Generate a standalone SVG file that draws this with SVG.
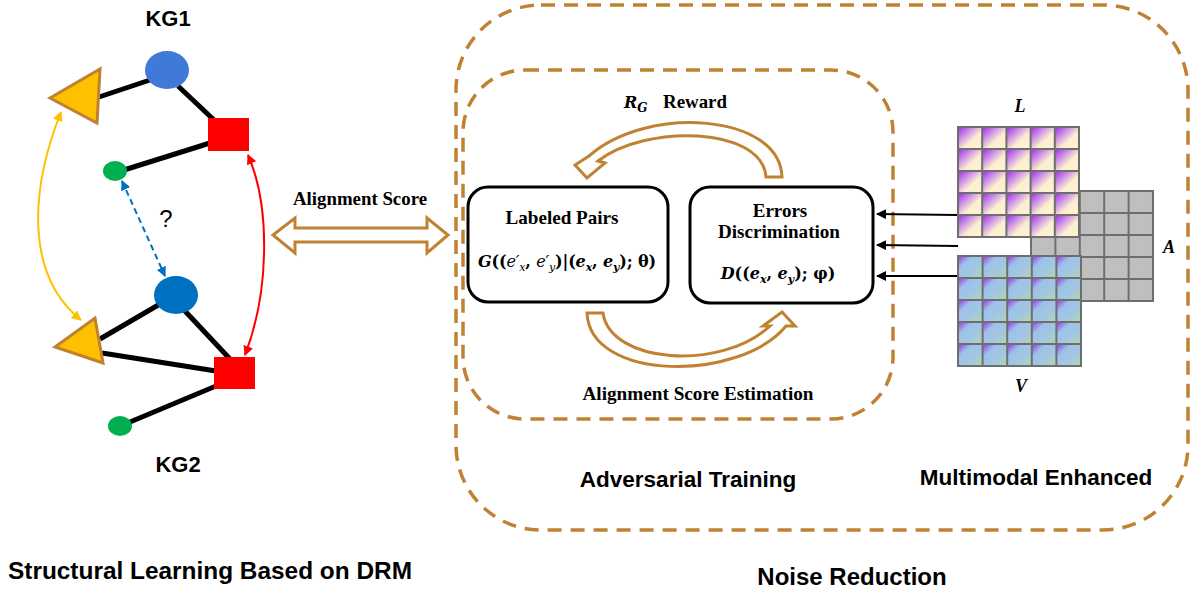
<svg xmlns="http://www.w3.org/2000/svg" width="1194" height="594" viewBox="0 0 1194 594">
<style>
.sans{font-family:"Liberation Sans",Arial,sans-serif;font-weight:bold;fill:#000}
.serif{font-family:"Liberation Serif","Times New Roman",serif;font-weight:bold;fill:#000}
.math{font-family:"DejaVu Serif","Liberation Serif",serif;font-weight:bold;fill:#000;font-size:16px}
.dash{fill:none;stroke:#C08232;stroke-width:3.5;stroke-dasharray:14 9}
.hollow{fill:#fff;stroke:#C08232;stroke-width:3;stroke-linejoin:miter}
.box{fill:#fff;stroke:#000;stroke-width:3}
.edge{stroke:#000;stroke-width:5;fill:none}
.grid{fill:none;stroke:#6E6E6E;stroke-width:2}
</style>
<defs>
<linearGradient id="gL" x1="0" y1="0" x2="1" y2="1">
<stop offset="0" stop-color="#9A2BE8"/><stop offset="0.3" stop-color="#C98AE6"/><stop offset="0.6" stop-color="#FCEFD2"/><stop offset="1" stop-color="#FFF3CF"/>
</linearGradient>
<linearGradient id="gV" x1="0" y1="0" x2="1" y2="1">
<stop offset="0" stop-color="#9A2BE8"/><stop offset="0.3" stop-color="#9CC2EA"/><stop offset="0.65" stop-color="#A3C7E0"/><stop offset="1" stop-color="#B3D7A6"/>
</linearGradient>
<pattern id="pL" patternUnits="userSpaceOnUse" x="958" y="127" width="24.2" height="22">
<rect x="0" y="0" width="24.2" height="22" fill="url(#gL)"/>
<rect x="0" y="0" width="24.2" height="22" fill="none" stroke="#6E6E6E" stroke-width="2"/>
</pattern>
<pattern id="pV" patternUnits="userSpaceOnUse" x="958" y="256" width="24.6" height="22">
<rect x="0" y="0" width="24.6" height="22" fill="url(#gV)"/>
<rect x="0" y="0" width="24.6" height="22" fill="none" stroke="#6E6E6E" stroke-width="2"/>
</pattern>
<pattern id="pA" patternUnits="userSpaceOnUse" x="1031" y="191" width="24.4" height="22">
<rect x="0" y="0" width="24.4" height="22" fill="#BFBFBF"/>
<rect x="0" y="0" width="24.4" height="22" fill="none" stroke="#6E6E6E" stroke-width="2"/>
</pattern>
<marker id="mBlack" viewBox="0 0 10 10" refX="9" refY="5" markerWidth="5" markerHeight="5" orient="auto"><path d="M0,0 L10,5 L0,10 z" fill="#000"/></marker>
<marker id="mRed" viewBox="0 0 10 10" refX="9" refY="5" markerWidth="5" markerHeight="5" orient="auto-start-reverse"><path d="M0,0 L10,5 L0,10 z" fill="#FF0000"/></marker>
<marker id="mYel" viewBox="0 0 10 10" refX="9" refY="5" markerWidth="5" markerHeight="5" orient="auto-start-reverse"><path d="M0,0 L10,5 L0,10 z" fill="#FFC000"/></marker>
<marker id="mBlue" viewBox="0 0 10 10" refX="9" refY="5" markerWidth="5" markerHeight="5" orient="auto-start-reverse"><path d="M0,0 L10,5 L0,10 z" fill="#0070C0"/></marker>
</defs>
<rect width="1194" height="594" fill="#fff"/>

<!-- containers -->
<g id="noise-reduction">
<rect class="dash" x="456" y="5" width="732" height="525" rx="85" ry="85"/>
</g>
<g id="adversarial-training">
<rect class="dash" x="463" y="70" width="430" height="349" rx="62" ry="62"/>
</g>

<!-- connectors -->
<g id="connectors">
<line class="edge" x1="99" y1="97" x2="150" y2="80"/>
<line class="edge" x1="178" y1="86" x2="214" y2="120"/>
<line class="edge" x1="210" y1="143" x2="124" y2="170"/>
<line class="edge" x1="100" y1="339" x2="160" y2="304"/>
<line class="edge" x1="184" y1="310" x2="230" y2="359"/>
<line class="edge" x1="102" y1="353" x2="216" y2="371"/>
<line class="edge" x1="216" y1="386" x2="130" y2="422"/>
<path d="M61,112 C30,190 25,275 81,320" fill="none" stroke="#FFC000" stroke-width="2" marker-start="url(#mYel)" marker-end="url(#mYel)"/>
<path d="M248,155 C270,205 270,290 245,355" fill="none" stroke="#FF0000" stroke-width="2" marker-start="url(#mRed)" marker-end="url(#mRed)"/>
<line x1="122" y1="181" x2="165" y2="276" stroke="#0070C0" stroke-width="2" stroke-dasharray="6 4" marker-start="url(#mBlue)" marker-end="url(#mBlue)"/>
<polygon class="hollow" points="273,235 295,218 295,228 427,228 427,218 448,235 427,253 427,242 295,242 295,253"/>
<path class="hollow" d="M782,177 C780,114 648,104 589,156 L575,165 L587,178 L605,163 L598,161 C645,124 762,126 766,177 Z"/>
<path class="hollow" d="M587,313 L603,313 C610,363 720,372 770,326 L763,326 L782,312 L795,326 L786,326 C740,382 590,382 587,313 Z"/>
<line x1="958" y1="215" x2="877" y2="214" stroke="#000" stroke-width="2" marker-end="url(#mBlack)"/>
<line x1="958" y1="246" x2="877" y2="245" stroke="#000" stroke-width="2" marker-end="url(#mBlack)"/>
<line x1="958" y1="276" x2="877" y2="276" stroke="#000" stroke-width="2" marker-end="url(#mBlack)"/>
</g>

<!-- KG1 nodes -->
<g id="kg1-triangle"><polygon points="50,98 100,69 97,123" fill="#FFC000" stroke="#BF8130" stroke-width="3"/></g>
<g id="kg1-circle"><ellipse cx="167" cy="70" rx="22" ry="19" fill="#3F7AD9"/></g>
<g id="kg1-square"><rect x="208" y="118" width="41" height="33" fill="#FF0000"/></g>
<g id="kg1-small"><ellipse cx="115" cy="171" rx="12" ry="10" fill="#00B050"/></g>
<!-- KG2 nodes -->
<g id="kg2-triangle"><polygon points="55,347 95,318 103,363" fill="#FFC000" stroke="#BF8130" stroke-width="3"/></g>
<g id="kg2-circle"><ellipse cx="176" cy="295" rx="22" ry="19" fill="#0070C0"/></g>
<g id="kg2-square"><rect x="214" y="357" width="41" height="32" fill="#FF0000"/></g>
<g id="kg2-small"><ellipse cx="120" cy="426" rx="12" ry="10" fill="#00B050"/></g>

<g id="labels-left">
<text class="sans" x="168" y="26" font-size="22" text-anchor="middle">KG1</text>
<text class="sans" x="178" y="472" font-size="22" text-anchor="middle">KG2</text>
<text x="166" y="227" font-family="Liberation Sans, Arial, sans-serif" font-size="24" text-anchor="middle">?</text>
<text class="sans" x="8" y="579" font-size="24" textLength="404" lengthAdjust="spacingAndGlyphs">Structural Learning Based on DRM</text>
<text class="serif" x="360" y="205" font-size="18" text-anchor="middle" textLength="134" lengthAdjust="spacingAndGlyphs">Alignment Score</text>
</g>

<!-- Labeled Pairs node -->
<g id="labeled-pairs">
<rect class="box" x="468" y="187" width="200" height="115" rx="20" ry="20"/>
<text class="serif" x="562" y="224" font-size="19" text-anchor="middle" textLength="113" lengthAdjust="spacingAndGlyphs">Labeled Pairs</text>
<text class="math" x="567" y="267" text-anchor="middle" textLength="178" lengthAdjust="spacing"><tspan font-style="italic">G</tspan>((<tspan font-style="italic" font-weight="normal">e′</tspan><tspan font-style="italic" font-weight="normal" font-size="11" baseline-shift="-4">x</tspan>, <tspan font-style="italic" font-weight="normal">e′</tspan><tspan font-style="italic" font-weight="normal" font-size="11" baseline-shift="-4">y</tspan>)|(<tspan font-style="italic">e</tspan><tspan font-style="italic" font-size="11" baseline-shift="-4">x</tspan>, <tspan font-style="italic">e</tspan><tspan font-style="italic" font-size="11" baseline-shift="-4">y</tspan>); θ)</text>
</g>

<!-- Errors Discrimination node -->
<g id="errors-discrimination">
<rect class="box" x="690" y="187" width="183" height="116" rx="20" ry="20"/>
<text class="serif" x="780" y="217" font-size="19" text-anchor="middle">Errors</text>
<text class="serif" x="779" y="238" font-size="19" text-anchor="middle" textLength="122" lengthAdjust="spacingAndGlyphs">Discrimination</text>
<text class="math" x="778" y="279" text-anchor="middle"><tspan font-style="italic">D</tspan>((<tspan font-style="italic">e</tspan><tspan font-style="italic" font-size="11" baseline-shift="-4">x</tspan>, <tspan font-style="italic">e</tspan><tspan font-style="italic" font-size="11" baseline-shift="-4">y</tspan>); φ)</text>
</g>

<g id="arrow-labels">
<text class="math" x="624" y="108" font-size="18"><tspan font-style="italic">R</tspan><tspan font-style="italic" font-size="12" baseline-shift="-4">G</tspan></text>
<text class="serif" x="663" y="108" font-size="19" textLength="64" lengthAdjust="spacingAndGlyphs">Reward</text>
<text class="serif" x="698" y="400" font-size="18" text-anchor="middle" textLength="231" lengthAdjust="spacingAndGlyphs">Alignment Score Estimation</text>
</g>

<!-- Multimodal matrices -->
<g id="matrix-A">
<rect x="1031" y="191" width="122" height="110" fill="url(#pA)"/>
<rect class="grid" x="1031" y="191" width="122" height="110"/>
</g>
<g id="matrix-L">
<rect x="958" y="127" width="121" height="110" fill="url(#pL)"/>
<rect class="grid" x="958" y="127" width="121" height="110"/>
</g>
<g id="matrix-V">
<rect x="958" y="256" width="123" height="110" fill="url(#pV)"/>
<rect class="grid" x="958" y="256" width="123" height="110"/>
</g>
<g id="matrix-labels">
<text class="serif" x="1020" y="112" font-size="18" font-style="italic" text-anchor="middle">L</text>
<text class="serif" x="1169" y="253" font-size="18" font-style="italic" text-anchor="middle">A</text>
<text class="serif" x="1021" y="392" font-size="18" font-style="italic" text-anchor="middle">V</text>
</g>

<g id="section-labels">
<text class="sans" x="688" y="487" font-size="22.5" text-anchor="middle">Adversarial Training</text>
<text class="sans" x="1036" y="485" font-size="22.5" text-anchor="middle">Multimodal Enhanced</text>
<text class="sans" x="852" y="585" font-size="24" text-anchor="middle">Noise Reduction</text>
</g>
</svg>
